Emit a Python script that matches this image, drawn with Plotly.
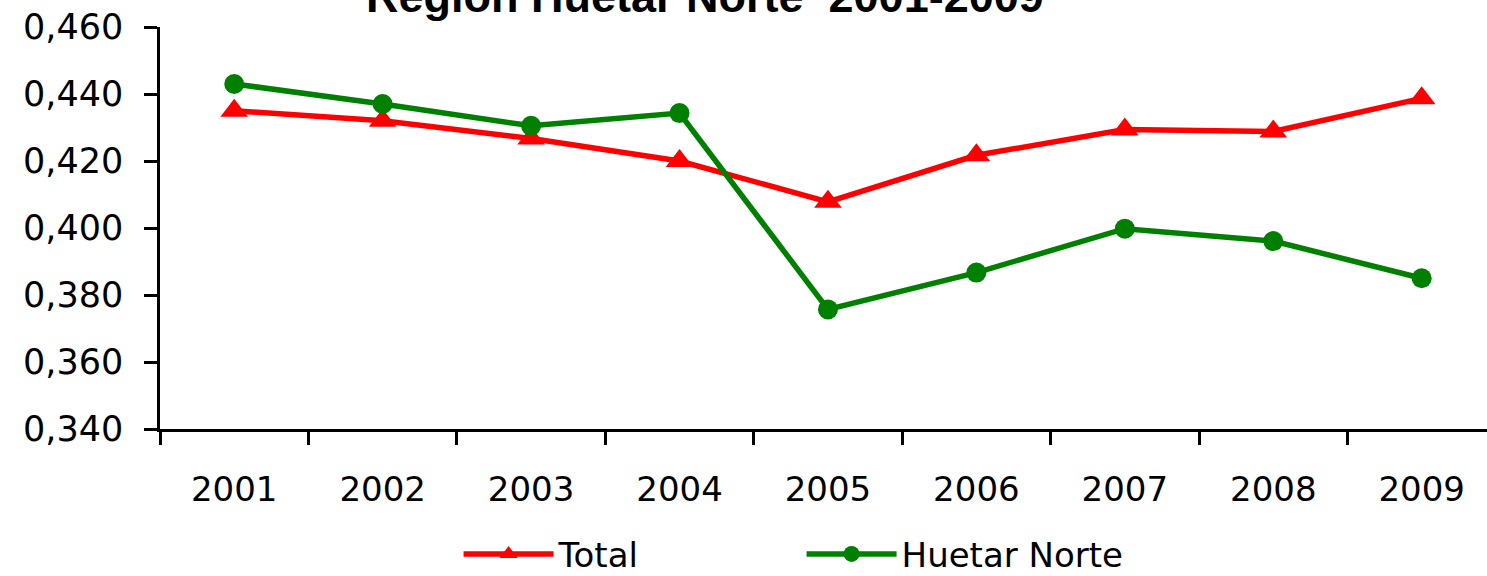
import plotly.graph_objects as go

years = ["2001", "2002", "2003", "2004", "2005", "2006", "2007", "2008", "2009"]
total = [0.4350, 0.4320, 0.4267, 0.4200, 0.4078, 0.4217, 0.4294, 0.4288, 0.4387]
huetar_norte = [0.4430, 0.4370, 0.4305, 0.4343, 0.3757, 0.3867, 0.3998, 0.3961, 0.3850]
y_ticks = [0.34, 0.36, 0.38, 0.40, 0.42, 0.44, 0.46]
y_tick_labels = ["0,340", "0,360", "0,380", "0,400", "0,420", "0,440", "0,460"]

FONT = "DejaVu Sans, sans-serif"
TITLE_FONT = "Liberation Sans, Arial, sans-serif"

fig = go.Figure()
fig.add_trace(go.Scatter(
    x=years, y=total, name="Total", mode="lines+markers",
    line=dict(color="#FF0000", width=5.5),
    marker=dict(symbol="triangle-up", size=24, color="#FF0000"),
))
fig.add_trace(go.Scatter(
    x=years, y=huetar_norte, name="Huetar Norte", mode="lines+markers",
    line=dict(color="#008000", width=5.5),
    marker=dict(symbol="circle", size=20, color="#008000"),
))

fig.update_layout(
    width=1487, height=576,
    margin=dict(l=160, r=0, t=27, b=147, autoexpand=False),
    plot_bgcolor="white", paper_bgcolor="white",
    font=dict(family=FONT, size=34, color="black"),
    showlegend=True,
    legend=dict(
        orientation="h", x=0.225, xanchor="left", y=-0.384, yanchor="bottom",
        font=dict(size=34, family=FONT), itemwidth=90,
        entrywidth=238, entrywidthmode="pixels",
        bgcolor="rgba(0,0,0,0)",
    ),
    xaxis=dict(
        type="category", range=[-0.5, 8.44], automargin=False,
        showline=True, linecolor="black", linewidth=2.5,
        ticks="outside", tickson="boundaries", ticklen=13, tickwidth=2.5, tickcolor="black",
        showgrid=False, zeroline=False, ticklabelstandoff=28,
        tickfont=dict(size=34, family=FONT),
    ),
    yaxis=dict(
        range=[0.34, 0.46], tickvals=y_ticks, ticktext=y_tick_labels, automargin=False,
        showline=True, linecolor="black", linewidth=2.5,
        ticks="outside", ticklen=13, tickwidth=2.5, tickcolor="black",
        showgrid=False, zeroline=False, ticklabelstandoff=14,
        tickfont=dict(size=35, family=FONT),
    ),
    annotations=[dict(
        text="<b>Región Huetar Norte  2001-2009</b>",
        xref="paper", yref="paper", x=(705 - 160) / 1327, y=1.0076,
        xanchor="center", yanchor="bottom", showarrow=False,
        font=dict(size=45, family=TITLE_FONT, color="black"),
    )],
)

fig.write_html(
    "out.html",
    config={"displayModeBar": False},
    post_script="document.body.style.margin='0px';",
)
